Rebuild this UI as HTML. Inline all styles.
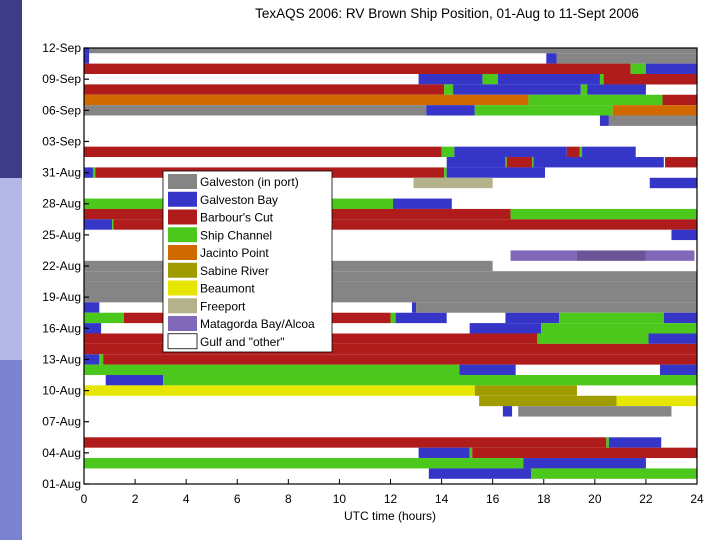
<!DOCTYPE html>
<html><head><meta charset="utf-8"><style>
body{margin:0;width:720px;height:540px;overflow:hidden;background:#fff;font-family:"Liberation Sans",sans-serif}
svg text{font-family:"Liberation Sans",sans-serif}
</style></head><body>
<svg id="c" width="720" height="540" xmlns="http://www.w3.org/2000/svg">
<rect x="0" y="0" width="22" height="178" fill="#3c3c88"/>
<rect x="0" y="178" width="22" height="182" fill="#b3b8e6"/>
<rect x="0" y="360" width="22" height="180" fill="#7b82d0"/>
<text x="447" y="18" font-size="13.5" text-anchor="middle">TexAQS 2006: RV Brown Ship Position, 01-Aug to 11-Sept 2006</text>
<g id="bars"></g>
<g id="axes"></g>
<g id="legend"></g>
<text x="390" y="520" font-size="12" text-anchor="middle">UTC time (hours)</text>
</svg>
<script>
const locNames=["Galveston (in port)","Galveston Bay","Barbour's Cut","Ship Channel","Jacinto Point","Sabine River","Beaumont","Freeport","Matagorda Bay/Alcoa","Gulf and \"other\""];
const locColors=["#858585","#3535c8","#b01c1c","#4cc81c","#d06a00","#a09c00","#e6e600","#b4b28a","#8068b8","#ffffff","#6a5498"];
const xTicks=[0,2,4,6,8,10,12,14,16,18,20,22,24];
const dayTicks=[0,3,6,9,12,15,18,21,24,27,30,33,36,39,42];
const dayLabels=["01-Aug","04-Aug","07-Aug","10-Aug","13-Aug","16-Aug","19-Aug","22-Aug","25-Aug","28-Aug","31-Aug","03-Sep","06-Sep","09-Sep","12-Sep"];
// segments: [dayIndex, startHour, endHour, locationIndex]
const segDay=[41,41,40,40,40,39,39,39,38,38,38,38,38,38,37,37,37,37,37,36,36,36,35,35,35,35,34,34,
31,31,31,31,31,31,30,30,30,30,30,30,29,29,29,29,29,28,28,26,26,25,25,24,24,24,23,21,21,21,20,19,18,17,
16,16,16,15,15,15,15,15,15,15,14,14,14,13,13,13,12,11,11,11,10,10,10,9,9,8,8,7,7,6,6,3,3,3,2,2,2,1,1,0,0];
const segStart=[0,0,0,18.1,18.5,0,21.4,22.0,13.1,15.6,16.2,20.2,20.35,20.35,0,14.1,14.45,19.45,19.7,0,17.4,22.65,0,13.4,15.3,20.7,20.2,20.55,
0,14,14.5,18.9,19.4,19.5,14.2,16.5,16.55,17.55,17.6,22.75,0,0.35,0.45,14.1,14.2,12.9,22.15,0,12.1,0,16.7,0,1.1,1.15,23,16.7,19.3,22,0,0,0,0,
0,12.84,13.0,0,1.56,12.0,12.2,16.5,18.6,22.7,0,15.1,17.9,0,17.75,22.1,0,0,0.6,0.75,0,14.7,22.55,0.85,3.1,0,15.3,15.47,20.85,16.4,17.0,0,20.45,20.55,13.1,15.1,15.2,0,17.2,13.5,17.5];
const segEnd=[24,0.2,0.2,18.5,24,21.4,22.0,24,15.6,16.2,20.2,20.35,24,24,14.1,14.45,19.45,19.7,22,17.4,22.65,24,13.4,15.3,20.7,24,20.55,24,
14,14.5,18.9,19.4,19.5,21.6,16.5,16.55,17.55,17.6,22.7,24,0.35,0.45,14.1,14.2,18.05,16.0,24,12.1,14.4,16.7,24,1.1,1.15,24,24,19.3,22,23.9,16,24,24,24,
0.6,13.0,24,1.56,12.0,12.2,14.2,18.6,22.7,24,0.67,17.9,24,17.75,22.1,24,24,0.6,0.75,24,14.7,16.9,24,3.1,24,15.3,19.3,20.85,24,16.76,23.0,20.45,20.55,22.6,15.1,15.2,24,17.2,22,17.5,24];
const segLoc=[0,1,1,1,0,2,3,1,1,3,1,3,2,2,2,3,1,3,1,4,3,2,0,1,3,4,1,0,
2,3,1,2,3,1,1,3,2,3,1,2,1,3,2,3,1,7,1,3,1,2,3,1,3,2,1,8,10,8,0,0,0,0,
1,1,0,3,2,3,1,1,3,1,1,1,3,2,3,1,2,1,3,2,3,1,1,1,3,6,5,5,6,1,0,2,3,1,1,3,2,3,1,1,3];
const X0=84,X1=697,Y0=484,DY=10.38,YT=48;
const xs=h=>X0+(X1-X0)*h/24;
const ys=d=>Y0-d*DY;
const NS="http://www.w3.org/2000/svg";
function mk(tag,at,parent){const e=document.createElementNS(NS,tag);for(const k in at)e.setAttribute(k,at[k]);parent.appendChild(e);return e;}
const bars=document.getElementById('bars');
for(let i=0;i<segDay.length;i++){
  const d=segDay[i];let top=ys(d+1.5),bot=ys(d+0.5);
  if(top<YT)top=YT;
  const r=mk('rect',{x:xs(segStart[i]),y:top,width:Math.max(0,xs(segEnd[i])-xs(segStart[i])),height:bot-top,fill:locColors[segLoc[i]]},bars);
  
  
}
const ax=document.getElementById('axes');
const fr=mk('rect',{x:X0,y:YT,width:X1-X0,height:Y0-YT,fill:'none',stroke:'#000','stroke-width':1.2},ax);


xTicks.forEach(t=>{
  const l=mk('line',{x1:xs(t),x2:xs(t),y1:Y0,y2:Y0-5,stroke:'#000','stroke-width':1},ax);
  
  
  const tx=mk('text',{x:xs(t),y:Y0+19,'font-size':12,'text-anchor':'middle'},ax);tx.textContent=t;
  
  
});
dayTicks.forEach((t,i)=>{
  const l=mk('line',{x1:X0,x2:X0+5,y1:ys(t),y2:ys(t),stroke:'#000','stroke-width':1.2},ax);
  
  
  const tx=mk('text',{x:X0-3,y:ys(t)+4,'font-size':12,'text-anchor':'end'},ax);tx.textContent=dayLabels[i];
  
  
});
const lg=document.getElementById('legend');
const box=mk('rect',{x:163,y:171,width:169,height:181,fill:'#fff',stroke:'#000','stroke-width':0.8},lg);


locNames.forEach((n,i)=>{
  const y=174+i*17.75;
  const s=mk('rect',{x:168,y:y,width:29,height:15,fill:locColors[i],stroke:i==9?'#000':'none','stroke-width':0.8},lg);
  
  
  const t=mk('text',{x:200,y:y+12,'font-size':12},lg);t.textContent=n;
  
  
});
</script>
</body></html>
